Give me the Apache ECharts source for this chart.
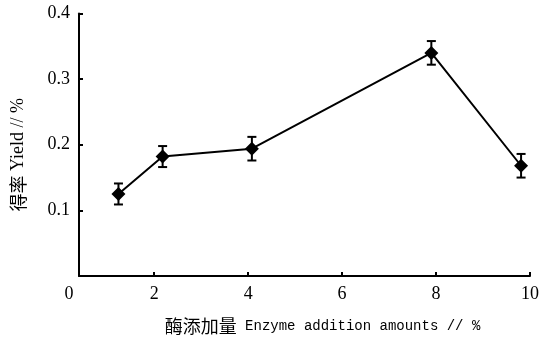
<!DOCTYPE html>
<html><head><meta charset="utf-8">
<script src="https://cdn.jsdelivr.net/npm/echarts@6/dist/echarts.min.js"></script>
<style>html,body{margin:0;padding:0;background:#fff}#c{width:542px;height:340px}</style>
</head><body><div id="c"></div>
<script>
const enzymeAmount = [1.24, 2.18, 4.08, 7.90, 9.81];
const yieldValues = [0.125, 0.182, 0.194, 0.340, 0.168];
const yieldErrors = [0.016, 0.016, 0.018, 0.018, 0.018];
const xTickValues = [2, 4, 6, 8, 10];
const xMin = 0.4, xMax = 10;
const yTicks = [0.1, 0.2, 0.3, 0.4];

const lineData = enzymeAmount.map((x, i) => [x, yieldValues[i]]);
const errData = enzymeAmount.map((x, i) => [x, yieldValues[i], yieldErrors[i]]);

const chart = echarts.init(document.getElementById('c'));
chart.setOption({
  animation: false,
  backgroundColor: '#fff',
  grid: { left: 79, right: 10, top: 13.5, bottom: 64 },
  xAxis: {
    type: 'value', min: xMin, max: xMax,
    splitLine: { show: false },
    axisLine: { lineStyle: { color: '#000', width: 2 } },
    axisTick: { inside: true, length: 4, customValues: xTickValues, lineStyle: { color: '#000', width: 2 } },
    axisLabel: {
      customValues: [xMin].concat(xTickValues), margin: 9,
      color: '#000', fontFamily: 'Liberation Serif', fontSize: 18,
      formatter: v => v === xMin ? '{z|0}' : '' + v,
      rich: { z: { fontFamily: 'Liberation Serif', fontSize: 18, color: '#000', padding: [0, 20, 0, 0] } }
    },
    name: '{c|酶添加量}{e| Enzyme addition amounts // %}',
    nameLocation: 'middle', nameGap: 41,
    nameTextStyle: {
      padding: [0, 0, 0, 36],
      rich: {
        c: { fontFamily: 'Noto Sans CJK SC', fontSize: 18, color: '#000' },
        e: { fontFamily: 'Liberation Mono', fontSize: 14, color: '#000' }
      }
    }
  },
  yAxis: {
    type: 'value', min: 0, max: 0.4, interval: 0.1,
    splitLine: { show: false },
    axisLine: { show: true, lineStyle: { color: '#000', width: 2 } },
    axisTick: { show: true, inside: true, length: 4, lineStyle: { color: '#000', width: 2 } },
    axisLabel: {
      margin: 9, color: '#000', fontFamily: 'Liberation Serif', fontSize: 18,
      formatter: v => yTicks.some(t => Math.abs(t - v) < 1e-6) ? v.toFixed(1) : ''
    },
    name: '{c|得率}{e| Yield // %}',
    nameLocation: 'middle', nameGap: 52, nameRotate: 90,
    nameTextStyle: {
      padding: [0, 20, 0, 0],
      rich: {
        c: { fontFamily: 'Noto Sans CJK SC', fontSize: 18, color: '#000' },
        e: { fontFamily: 'Liberation Serif', fontSize: 18, color: '#000' }
      }
    }
  },
  series: [
    {
      type: 'custom', z: 3,
      data: errData,
      encode: { x: 0, y: [1] },
      renderItem: (params, api) => {
        const x = api.value(0), y = api.value(1), e = api.value(2);
        const top = api.coord([x, y + e]);
        const bot = api.coord([x, y - e]);
        const w = 4.5;
        const st = { stroke: '#000', lineWidth: 2 };
        return {
          type: 'group', children: [
            { type: 'line', shape: { x1: top[0], y1: top[1], x2: bot[0], y2: bot[1] }, style: st },
            { type: 'line', shape: { x1: top[0] - w, y1: top[1], x2: top[0] + w, y2: top[1] }, style: st },
            { type: 'line', shape: { x1: bot[0] - w, y1: bot[1], x2: bot[0] + w, y2: bot[1] }, style: st }
          ]
        };
      }
    },
    {
      type: 'line', z: 4,
      data: lineData,
      symbol: 'diamond', symbolSize: 14,
      itemStyle: { color: '#000' },
      lineStyle: { color: '#000', width: 2 }
    }
  ]
});
</script></body></html>
